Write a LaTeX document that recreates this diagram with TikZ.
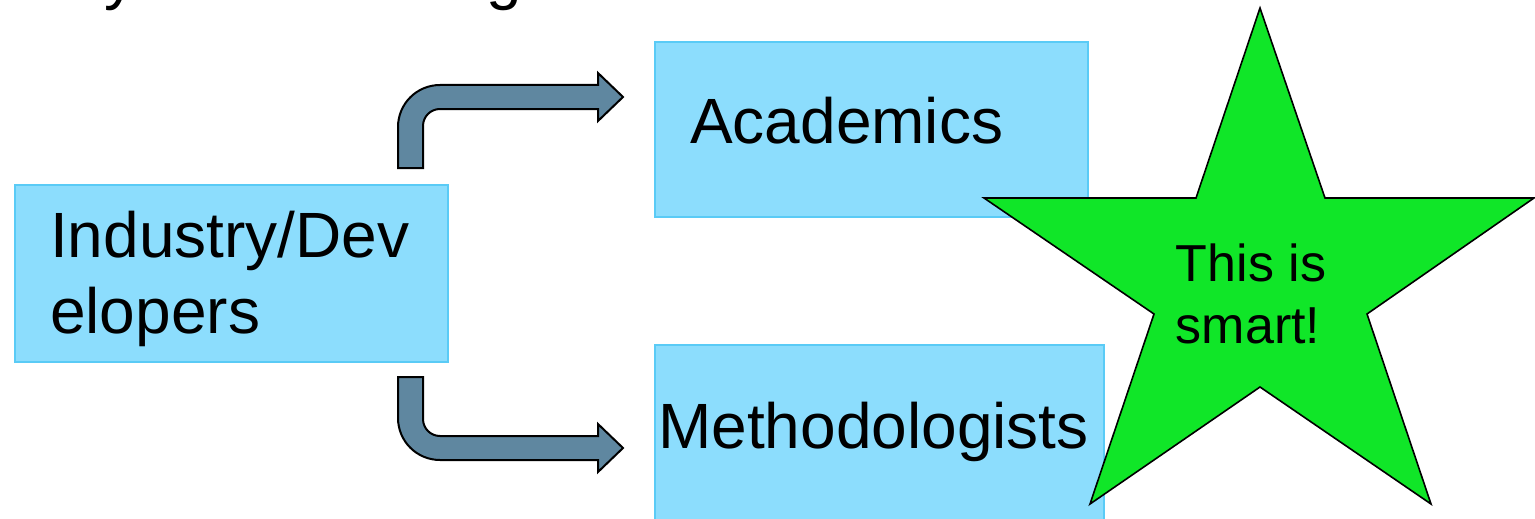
\documentclass[tikz,border=0pt]{standalone}
\usepackage{fontspec}
\setmainfont{Liberation Sans}
\begin{document}
\begin{tikzpicture}[x=1pt,y=-1pt,
  box/.style={draw=boxline, fill=boxfill, line width=2pt, inner sep=0pt, anchor=north west},
  bigtext/.style={anchor=base west, inner sep=0pt, font=\fontsize{64}{76}\selectfont},
  startext/.style={anchor=base, inner sep=0pt, font=\fontsize{52}{62}\selectfont},
  bentarrow/.style={fill=arrowfill, draw=black, line width=2pt, line join=miter}]
\definecolor{boxfill}{RGB}{140,221,253}
\definecolor{boxline}{RGB}{90,203,246}
\definecolor{arrowfill}{RGB}{95,135,160}
\definecolor{starfill}{RGB}{16,230,40}

\useasboundingbox (0,0) rectangle (1535,519);
\clip (0,0) rectangle (1535,519);

% descenders of the heading line above
\node[bigtext] (hy) at (104,-2) {y};
\node[bigtext] (hg) at (486,-2) {g};

% boxes
\node[box, minimum width=433pt, minimum height=177pt] (ind) at (14,184) {};
\node[box, minimum width=433pt, minimum height=175pt] (acad) at (654,41) {};
\node[box, minimum width=449pt, minimum height=190pt] (meth) at (654,344) {};

\node[bigtext] (indA) at (50,257) {Industry/Dev};
\node[bigtext] (indB) at (50,333) {elopers};
\node[bigtext] (acadT) at (690,143) {Academics};
\node[bigtext] (methT) at (658,448) {Methodologists};

% bent block arrows
\draw[bentarrow] (398,168) -- (398,127)
  .. controls (398,103.8) and (416.8,85) .. (440,85)
  -- (598,85) -- (598,73) -- (623,97) -- (598,121) -- (598,109)
  -- (440,109) .. controls (430.6,109) and (423,116.6) .. (423,126)
  -- (423,168) -- cycle;
\draw[bentarrow] (398,377) -- (398,418)
  .. controls (398,441.2) and (416.8,460) .. (440,460)
  -- (598,460) -- (598,472) -- (623,448) -- (598,424) -- (598,436)
  -- (440,436) .. controls (430.6,436) and (423,428.4) .. (423,419)
  -- (423,377) -- cycle;

% star
\draw[fill=starfill, draw=black, line width=1.6pt, line join=miter]
  (1260,8) -- (1325,198) -- (1534,198) -- (1367,314) -- (1431,504)
  -- (1260,387) -- (1090,504) -- (1154,314) -- (984,198) -- (1196,198) -- cycle;
\node[startext] (starA) at (1251,281) {This is};
\node[startext] (starB) at (1248,343) {smart!};
\end{tikzpicture}
\end{document}
